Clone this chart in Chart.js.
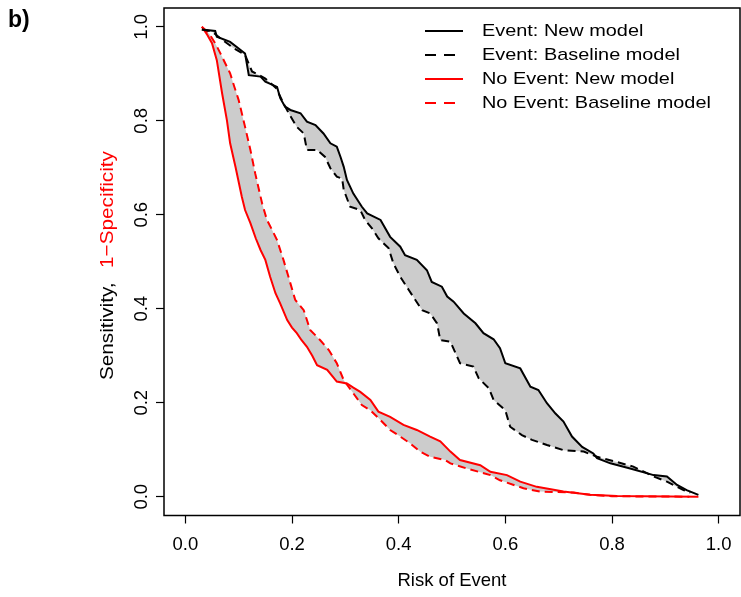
<!DOCTYPE html>
<html><head><meta charset="utf-8">
<script src="https://cdn.jsdelivr.net/npm/chart.js@4.4.0/dist/chart.umd.min.js"></script>
<style>html,body{margin:0;padding:0;background:#fff;}canvas{display:block;}</style>
</head><body>
<canvas id="c" width="741" height="597"></canvas>
<script>
// ---- data ----
const xTicks = [0, 0.2, 0.4, 0.6, 0.8, 1.0];
const yTicks = [0, 0.2, 0.4, 0.6, 0.8, 1.0];

const eventNewX = [0.031,0.056,0.059,0.084,0.100,0.112,0.119,0.141,0.150,0.172,0.178,0.187,0.197,0.216,0.228,0.244,0.259,0.272,0.284,0.291,0.297,0.303,0.315,0.331,0.341,0.366,0.384,0.403,0.412,0.434,0.453,0.462,0.481,0.491,0.503,0.522,0.544,0.559,0.578,0.590,0.600,0.628,0.647,0.662,0.678,0.694,0.709,0.725,0.744,0.765,0.772,0.797,0.834,0.878,0.903,0.922,0.940,0.962];
const eventNewY = [0.994,0.991,0.979,0.968,0.954,0.943,0.897,0.894,0.883,0.872,0.848,0.830,0.823,0.816,0.798,0.791,0.773,0.752,0.745,0.723,0.702,0.674,0.645,0.617,0.603,0.589,0.553,0.532,0.514,0.504,0.482,0.457,0.447,0.426,0.415,0.390,0.369,0.348,0.335,0.316,0.284,0.273,0.234,0.227,0.199,0.177,0.160,0.128,0.106,0.092,0.082,0.071,0.060,0.046,0.043,0.025,0.014,0.004];

const eventBaseX = [0.031,0.050,0.072,0.090,0.112,0.125,0.150,0.170,0.185,0.197,0.209,0.222,0.228,0.247,0.262,0.272,0.284,0.294,0.297,0.309,0.328,0.337,0.350,0.362,0.381,0.390,0.403,0.419,0.431,0.444,0.459,0.472,0.478,0.497,0.515,0.540,0.550,0.569,0.578,0.600,0.609,0.631,0.650,0.678,0.709,0.747,0.772,0.809,0.840,0.878,0.903,0.934,0.947];
const eventBaseY = [0.994,0.990,0.970,0.955,0.940,0.905,0.890,0.870,0.835,0.810,0.787,0.773,0.738,0.738,0.723,0.699,0.681,0.677,0.653,0.617,0.610,0.589,0.571,0.550,0.529,0.497,0.468,0.440,0.419,0.397,0.390,0.369,0.333,0.330,0.284,0.277,0.252,0.231,0.206,0.184,0.149,0.131,0.121,0.110,0.099,0.096,0.085,0.074,0.064,0.043,0.032,0.014,0.009];

const noEventNewX = [0.031,0.040,0.050,0.059,0.069,0.078,0.084,0.094,0.106,0.112,0.122,0.132,0.141,0.150,0.159,0.169,0.178,0.191,0.200,0.209,0.218,0.228,0.238,0.247,0.266,0.284,0.303,0.315,0.328,0.347,0.362,0.384,0.409,0.434,0.459,0.478,0.497,0.515,0.553,0.572,0.603,0.628,0.659,0.709,0.759,0.809,0.962];
const noEventNewY = [1.000,0.985,0.965,0.929,0.858,0.801,0.752,0.702,0.638,0.610,0.582,0.550,0.525,0.504,0.468,0.433,0.411,0.376,0.360,0.348,0.333,0.319,0.300,0.280,0.270,0.245,0.241,0.232,0.223,0.206,0.181,0.170,0.153,0.142,0.128,0.118,0.096,0.078,0.067,0.053,0.046,0.032,0.021,0.011,0.004,0.0015,0.000];

const noEventBaseX = [0.031,0.045,0.056,0.066,0.075,0.084,0.092,0.100,0.112,0.122,0.131,0.144,0.153,0.163,0.172,0.184,0.197,0.206,0.222,0.234,0.253,0.269,0.284,0.297,0.315,0.331,0.347,0.366,0.384,0.403,0.422,0.440,0.459,0.487,0.497,0.528,0.572,0.590,0.634,0.665,0.728,0.759,0.800,0.945];
const noEventBaseY = [1.000,0.985,0.965,0.943,0.922,0.901,0.872,0.844,0.787,0.738,0.688,0.624,0.589,0.567,0.546,0.504,0.454,0.419,0.397,0.355,0.333,0.312,0.284,0.248,0.220,0.195,0.184,0.163,0.142,0.128,0.113,0.096,0.085,0.078,0.071,0.060,0.046,0.035,0.018,0.011,0.009,0.004,0.001,0.000];

const legendLabels = ['Event: New model','Event: Baseline model','No Event: New model','No Event: Baseline model'];
const legendColors = ['#000000','#000000','#ff0000','#ff0000'];
const legendDashed = [false, true, false, true];
const panelLabel = 'b)';
const xTitle = 'Risk of Event';
const yTitleParts = ['Sensitivity,', '1\u2212Specificity'];
const yTitleColors = ['#000000', '#ff0000'];

// ---- build ----
const pts = (xs, ys) => xs.map((x, i) => ({x: x, y: ys[i]}));
const FONT = '"Liberation Sans", Arial, sans-serif';
const FILL = '#cccccc';
const DASH = [8, 5];

const datasets = [
  {label: legendLabels[0], data: pts(eventNewX, eventNewY), borderColor: legendColors[0], backgroundColor: FILL, borderWidth: 2, fill: '+1', pointRadius: 0, tension: 0},
  {label: legendLabels[1], data: pts(eventBaseX, eventBaseY), borderColor: legendColors[1], backgroundColor: FILL, borderWidth: 2, borderDash: DASH, fill: false, pointRadius: 0, tension: 0},
  {label: legendLabels[2], data: pts(noEventNewX, noEventNewY), borderColor: legendColors[2], backgroundColor: FILL, borderWidth: 2, fill: '+1', pointRadius: 0, tension: 0},
  {label: legendLabels[3], data: pts(noEventBaseX, noEventBaseY), borderColor: legendColors[3], backgroundColor: FILL, borderWidth: 2, borderDash: DASH, fill: false, pointRadius: 0, tension: 0}
];

function stretchText(ctx, text, x, y, sx) {
  ctx.save(); ctx.translate(x, y); ctx.scale(sx, 1); ctx.fillText(text, 0, 0); ctx.restore();
}

const decor = {
  id: 'decor',
  afterDraw(chart) {
    const ctx = chart.ctx, a = chart.chartArea;
    ctx.save();
    // box
    ctx.setLineDash([]);
    ctx.strokeStyle = '#000'; ctx.lineWidth = 1.5;
    ctx.strokeRect(a.left, a.top, a.right - a.left, a.bottom - a.top);
    // legend
    const rowY = [31, 55, 79, 103];
    ctx.font = '17px ' + FONT;
    ctx.textBaseline = 'middle'; ctx.textAlign = 'left';
    legendLabels.forEach((lab, i) => {
      ctx.strokeStyle = legendColors[i]; ctx.lineWidth = 2;
      ctx.setLineDash(legendDashed[i] ? [11, 8] : []);
      ctx.beginPath(); ctx.moveTo(425, rowY[i]); ctx.lineTo(463, rowY[i]); ctx.stroke();
      ctx.fillStyle = '#000';
      stretchText(ctx, lab, 482, rowY[i], 1.17);
    });
    ctx.setLineDash([]);
    // y title (two colours)
    ctx.save();
    ctx.translate(108, 380); ctx.rotate(-Math.PI / 2); ctx.scale(1.12, 1);
    ctx.font = '18.5px ' + FONT; ctx.textBaseline = 'middle'; ctx.textAlign = 'left';
    ctx.fillStyle = yTitleColors[0]; ctx.fillText(yTitleParts[0], 0, 0);
    const w0 = ctx.measureText(yTitleParts[0]).width;
    ctx.fillStyle = yTitleColors[1]; ctx.fillText(yTitleParts[1], w0 + 13, 0);
    ctx.restore();
    // panel label
    ctx.font = 'bold 23px ' + FONT; ctx.fillStyle = '#000'; ctx.textBaseline = 'alphabetic';
    ctx.fillText(panelLabel, 8, 26.7);
    ctx.restore();
  }
};

const zeroPad = s => { s.paddingTop = 0; s.paddingBottom = 0; s.paddingLeft = 0; s.paddingRight = 0; };
const tickFont = {family: FONT, size: 18.5};

new Chart(document.getElementById('c'), {
  type: 'line',
  data: {datasets: datasets},
  plugins: [decor],
  options: {
    responsive: false, animation: false, devicePixelRatio: 1,
    layout: {padding: {top: 8, right: 1, left: 0, bottom: 0}},
    plugins: {legend: {display: false}, tooltip: {enabled: false}, filler: {drawTime: 'beforeDatasetsDraw'}},
    scales: {
      x: {
        type: 'linear', min: -0.04, max: 1.04, position: 'bottom',
        afterBuildTicks: s => { s.ticks = xTicks.map(v => ({value: v})); },
        afterFit: s => { s.height = 81.5; zeroPad(s); },
        grid: {display: true, drawOnChartArea: false, drawTicks: true, tickLength: 8, tickColor: '#000', tickWidth: 1.2},
        border: {display: false},
        ticks: {autoSkip: false, minRotation: 0, maxRotation: 0, padding: 10.4, font: tickFont, color: '#000', callback: v => Number(v).toFixed(1)},
        title: {display: true, text: xTitle, font: {family: FONT, size: 18.5}, color: '#000', padding: {top: 0, bottom: 4.6}}
      },
      y: {
        type: 'linear', min: -0.04, max: 1.04, position: 'left',
        afterBuildTicks: s => { s.ticks = yTicks.map(v => ({value: v})); },
        afterFit: s => { s.width = 164; zeroPad(s); },
        grid: {display: true, drawOnChartArea: false, drawTicks: true, tickLength: 8, tickColor: '#000', tickWidth: 1.2},
        border: {display: false},
        ticks: {autoSkip: false, minRotation: 90, maxRotation: 90, crossAlign: 'center', padding: 1, font: tickFont, color: '#000', callback: v => Number(v).toFixed(1)}
      }
    }
  }
});
</script>
</body></html>
